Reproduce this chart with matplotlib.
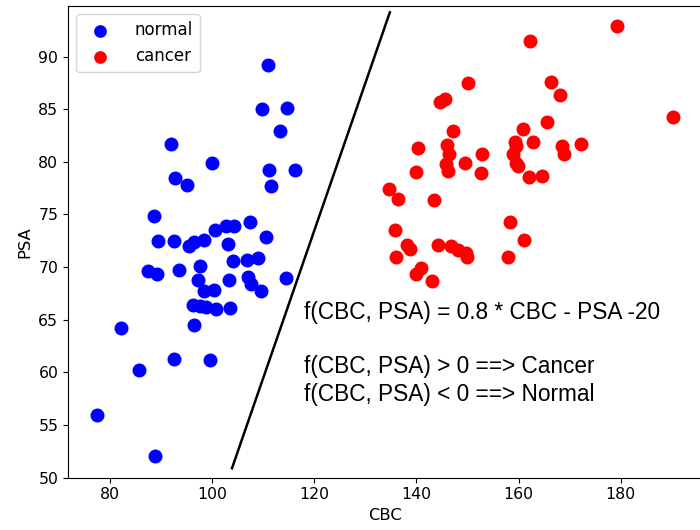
import matplotlib
matplotlib.use("Agg")
import matplotlib.pyplot as plt

normal_cbc = [111.0, 109.8, 114.6, 113.3, 92.0, 99.9, 111.2, 116.2, 92.7, 95.0,
              111.6, 88.6, 107.5, 102.7, 104.3, 100.5, 110.6, 89.5, 92.5, 95.5,
              96.5, 98.5, 103.1, 104.0, 106.8, 108.9, 97.6, 87.5, 89.3, 93.5,
              97.3, 103.3, 107.1, 107.7, 109.5, 114.4, 98.5, 100.3, 96.2, 97.6,
              98.9, 100.8, 103.5, 96.5, 82.2, 92.5, 99.5, 85.7, 77.5, 88.8]
normal_psa = [89.2, 85.0, 85.1, 82.9, 81.7, 79.9, 79.2, 79.2, 78.5, 77.8,
              77.7, 74.9, 74.3, 73.9, 73.9, 73.5, 72.9, 72.5, 72.5, 72.0,
              72.4, 72.6, 72.2, 70.6, 70.7, 70.9, 70.1, 69.6, 69.3, 69.7,
              68.8, 68.8, 69.1, 68.4, 67.7, 69.0, 67.7, 67.8, 66.4, 66.3,
              66.2, 66.0, 66.1, 64.5, 64.2, 61.3, 61.2, 60.2, 56.0, 52.1]

cancer_cbc = [179.2, 162.2, 150.1, 166.4, 168.2, 144.6, 145.5, 190.2, 165.6, 147.2,
              160.9, 140.4, 145.9, 159.2, 159.5, 162.9, 168.4, 168.8, 172.2, 146.3,
              152.9, 159.0, 145.7, 146.1, 149.6, 159.5, 159.9, 139.9, 152.7, 162.0,
              164.6, 134.6, 136.4, 143.4, 158.4, 135.9, 161.1, 138.1, 138.7, 144.3,
              146.7, 148.2, 149.7, 149.9, 136.1, 157.9, 140.9, 139.9, 143.1]
cancer_psa = [92.9, 91.5, 87.5, 87.6, 86.3, 85.7, 86.0, 84.3, 83.8, 82.9,
              83.1, 81.3, 81.6, 81.9, 81.5, 81.9, 81.5, 80.7, 81.7, 80.7,
              80.7, 80.7, 79.8, 79.1, 79.9, 79.9, 79.6, 79.0, 78.9, 78.6,
              78.7, 77.4, 76.5, 76.4, 74.3, 73.5, 72.6, 72.1, 71.7, 72.1,
              72.0, 71.6, 71.3, 71.0, 71.0, 71.0, 69.9, 69.3, 68.7]

boundary_cbc = [103.9, 134.8]
boundary_psa = [50.9, 94.2]

labels = ["normal", "cancer"]
annotation_lines = ["f(CBC, PSA) = 0.8 * CBC - PSA -20",
                    "f(CBC, PSA) > 0 ==> Cancer",
                    "f(CBC, PSA) < 0 ==> Normal"]

fig = plt.figure(figsize=(7.0, 5.3), dpi=100)
ax = fig.add_axes([68/700, (530-477.7)/530, (702-68)/700, (477.7-6)/530])

ax.scatter(normal_cbc, normal_psa, s=82, color="blue", label=labels[0], zorder=3)
ax.scatter(cancer_cbc, cancer_psa, s=82, color="red", label=labels[1], zorder=3)
ax.plot(boundary_cbc, boundary_psa, color="black", lw=1.8, zorder=2)

ax.set_xlim(71.8, 195.9)
ax.set_ylim(50, 94.8)
ax.set_xticks([80, 100, 120, 140, 160, 180])
ax.set_yticks([50, 55, 60, 65, 70, 75, 80, 85, 90])
ax.tick_params(labelsize=11.3)
ax.set_xlabel("CBC", fontsize=11.8)
ax.set_ylabel("PSA", fontsize=11.8)

ax.legend(loc="upper left", fontsize=12, markerscale=0.9, handletextpad=1.1)

tfont = dict(family=["Liberation Sans", "DejaVu Sans"], fontsize=16.3, color="black")
ax.text(304/700, 1 - 312/530, annotation_lines[0], transform=fig.transFigure, va="center", ha="left", **tfont)
ax.text(304/700, 1 - 367/530, annotation_lines[1], transform=fig.transFigure, va="center", ha="left", **tfont)
ax.text(304/700, 1 - 395/530, annotation_lines[2], transform=fig.transFigure, va="center", ha="left", **tfont)

fig.savefig("out.png", dpi=100)
